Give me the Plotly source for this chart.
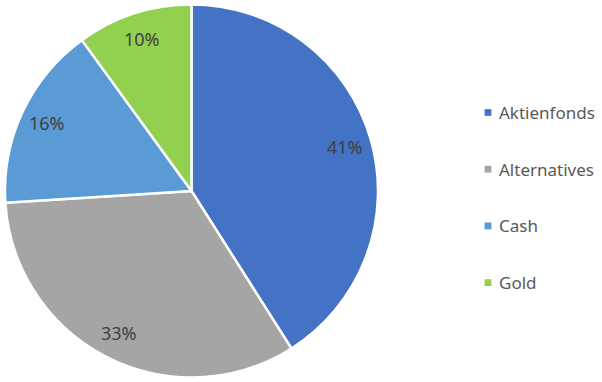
import math
import plotly.graph_objects as go

labels = ["Aktienfonds", "Alternatives", "Cash", "Gold"]
values = [41, 33, 16, 10]
colors = ["#4472C4", "#A5A5A5", "#5B9BD5", "#92D050"]

W, H = 602, 382
cx, cy, R = 191.5, 191.0, 186.5

fig = go.Figure()
fig.add_trace(go.Pie(
    labels=labels, values=values, sort=False, direction="clockwise", rotation=0,
    marker=dict(colors=colors, line=dict(color="white", width=2.5)),
    textinfo="none", showlegend=False, hoverinfo="label+percent",
    domain=dict(x=[(cx - R) / W, (cx + R) / W], y=[(H - cy - R) / H, (H - cy + R) / H]),
))

# percentage labels placed along slice mid-angles
total = sum(values)
cum = 0
for v in values:
    mid = (cum + v / 2) / total * 2 * math.pi
    cum += v
    r = 0.855 * R
    px = cx + r * math.sin(mid)
    py = cy - r * math.cos(mid)
    fig.add_annotation(x=px / W, y=1 - py / H, xref="paper", yref="paper",
                       xanchor="center", yanchor="middle",
                       text=f"{round(v / total * 100)}%", showarrow=False,
                       font=dict(family="Noto Sans", size=18, color="#404040"))

# legend (drawn as squares + text)
lx, ly0, dy, s = 488.0, 112.5, 56.7, 6.8
for i, (lab, col) in enumerate(zip(labels, colors)):
    yc = ly0 + i * dy
    fig.add_shape(type="rect", xref="paper", yref="paper",
                  x0=(lx - s / 2) / W, x1=(lx + s / 2) / W,
                  y0=1 - (yc + s / 2) / H, y1=1 - (yc - s / 2) / H,
                  fillcolor=col, line=dict(width=0))
    fig.add_annotation(x=497 / W, y=1 - yc / H, xref="paper", yref="paper",
                       xanchor="left", yanchor="middle", text=lab, showarrow=False,
                       font=dict(family="Noto Sans", size=17, color="#595959"))

fig.update_layout(
    width=W, height=H, margin=dict(l=0, r=0, t=0, b=0),
    paper_bgcolor="white", plot_bgcolor="white",
    showlegend=False,
)

fig.write_html("out.html")
